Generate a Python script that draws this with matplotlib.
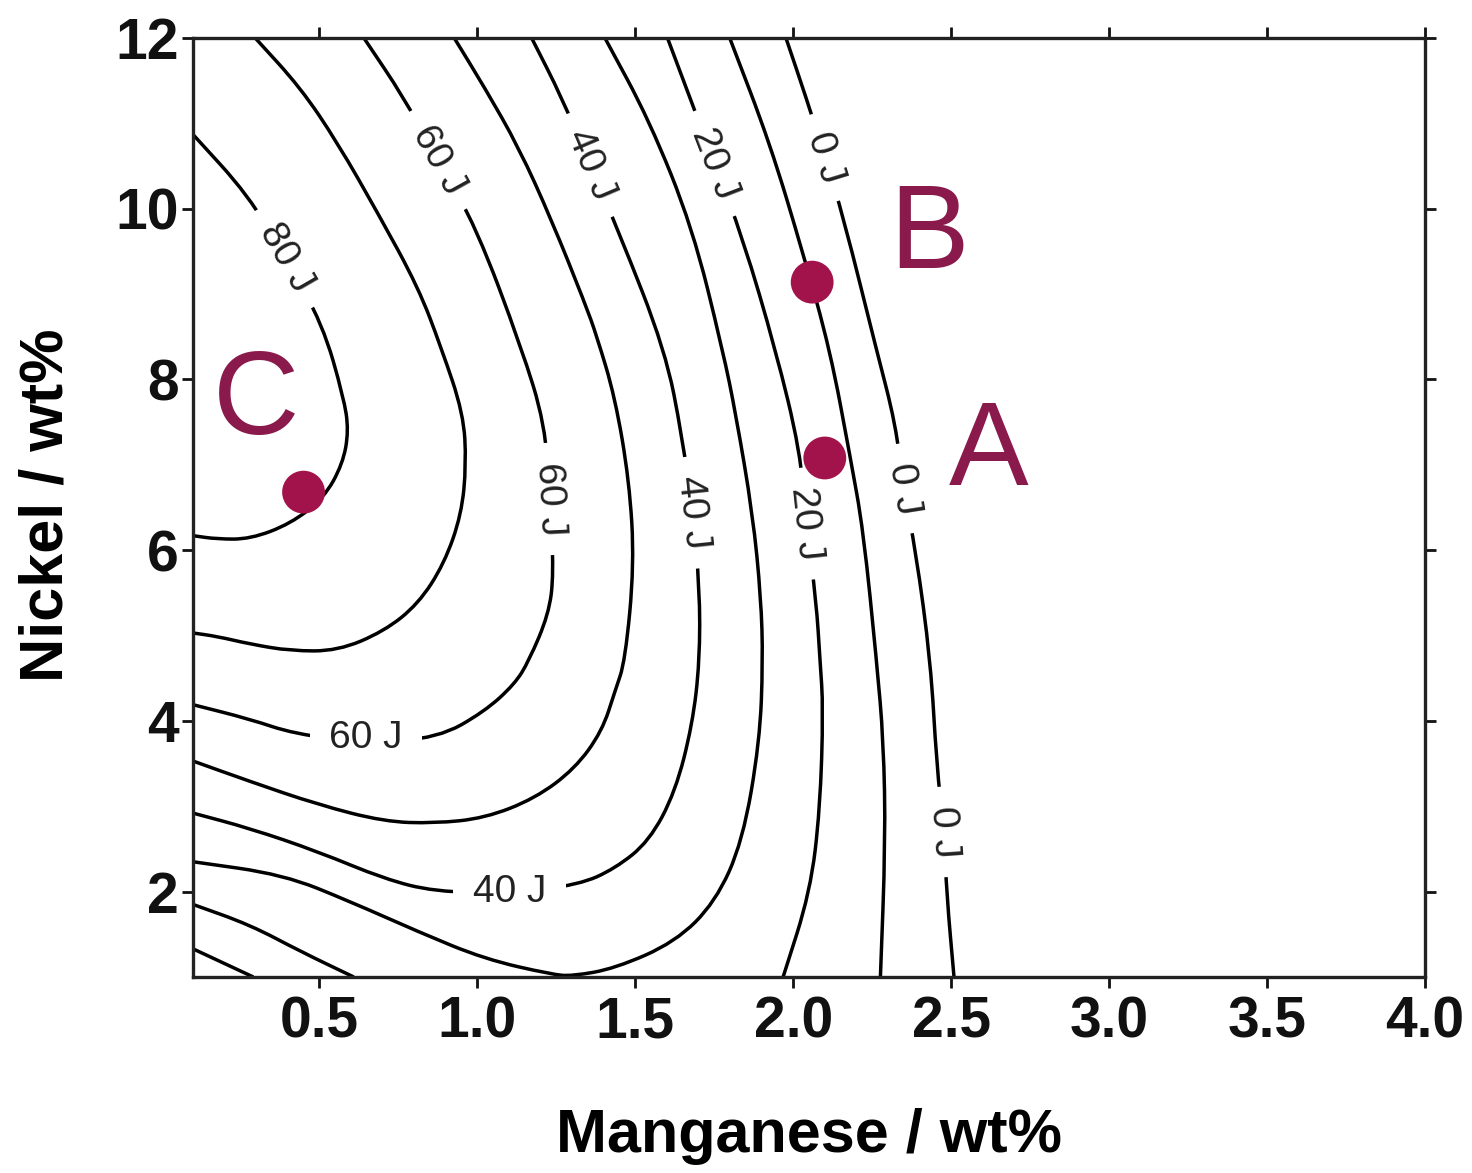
import matplotlib.pyplot as plt
from matplotlib.path import Path
from matplotlib.patches import PathPatch

plt.rcParams['font.family'] = ['Liberation Sans', 'DejaVu Sans']

# Impact energy contours: Manganese (x) and Nickel (y), wt%
c80_mn = [0.100, 0.275, 0.393, 0.510, 0.577, 0.593, 0.574, 0.514, 0.409, 0.281, 0.176, 0.100]
c80_ni = [10.87, 10.16, 9.42, 8.65, 7.79, 7.40, 7.01, 6.61, 6.31, 6.13, 6.13, 6.17]

c70_mn = [0.297, 0.440, 0.558, 0.685, 0.813, 0.886, 0.956, 0.965, 0.950, 0.895, 0.813, 0.705, 0.558, 0.409, 0.281, 0.176, 0.100]
c70_ni = [12.0, 11.42, 10.77, 9.95, 9.08, 8.37, 7.60, 7.01, 6.42, 5.84, 5.37, 5.05, 4.82, 4.82, 4.90, 4.99, 5.03]

c60_mn = [0.641, 0.768, 0.876, 0.997, 1.140, 1.214, 1.230, 1.242, 1.226, 1.163, 1.118, 1.023, 0.876, 0.647, 0.418, 0.281, 0.100]
c60_ni = [12.0, 11.30, 10.57, 9.78, 8.37, 7.48, 6.60, 5.72, 5.25, 4.70, 4.43, 4.11, 3.80, 3.74, 3.85, 4.02, 4.19]

c50_mn = [0.927, 1.023, 1.131, 1.236, 1.341, 1.378, 1.436, 1.481, 1.497, 1.468, 1.436, 1.395, 1.309, 1.182, 1.023, 0.864, 0.705, 0.495, 0.281, 0.100]
c50_ni = [12.0, 11.42, 10.72, 9.86, 8.89, 8.51, 7.79, 6.81, 5.84, 4.70, 4.35, 3.88, 3.44, 3.09, 2.86, 2.80, 2.82, 3.02, 3.29, 3.53]

c40_mn = [1.172, 1.268, 1.357, 1.449, 1.595, 1.649, 1.681, 1.704, 1.704, 1.681, 1.627, 1.544, 1.436, 1.322, 1.102, 0.864, 0.705, 0.495, 0.281, 0.100]
c40_ni = [12.0, 11.30, 10.51, 9.72, 8.34, 7.32, 6.44, 5.56, 4.70, 3.96, 3.17, 2.59, 2.27, 2.08, 1.98, 2.00, 2.15, 2.47, 2.74, 2.92]

c30_mn = [1.404, 1.544, 1.681, 1.777, 1.818, 1.872, 1.898, 1.904, 1.894, 1.840, 1.754, 1.627, 1.436, 1.300, 1.236, 1.023, 0.813, 0.600, 0.386, 0.100]
c30_ni = [12.0, 11.04, 9.78, 8.34, 7.60, 6.42, 5.44, 4.70, 3.76, 2.59, 1.88, 1.41, 1.10, 1.01, 1.03, 1.21, 1.53, 1.88, 2.20, 2.35]

c20_mn = [1.602, 1.672, 1.751, 1.840, 1.945, 2.022, 2.041, 2.073, 2.085, 2.095, 2.085, 2.054, 1.968]
c20_ni = [12.0, 11.31, 10.53, 9.66, 8.34, 7.16, 6.31, 5.40, 4.70, 4.15, 2.97, 2.00, 1.0]
c20b_mn = [0.100, 0.281, 0.440, 0.609]
c20b_ni = [1.85, 1.61, 1.30, 1.0]

c10_mn = [1.799, 1.926, 2.031, 2.117, 2.181, 2.222, 2.264, 2.286, 2.292, 2.276]
c10_ni = [12.0, 10.77, 9.48, 8.34, 7.08, 6.23, 4.70, 3.76, 2.59, 1.0]
c10b_mn = [0.100, 0.291]
c10b_ni = [1.33, 1.0]

c0_mn = [1.977, 2.041, 2.101, 2.159, 2.264, 2.324, 2.349, 2.388, 2.435, 2.454, 2.477, 2.486, 2.509]
c0_ni = [12.0, 11.30, 10.60, 9.90, 8.34, 7.48, 6.72, 5.99, 4.70, 3.49, 2.70, 1.96, 1.0]

# Contour labels
label_text = ['80 J', '60 J', '40 J', '20 J', '0 J', '60 J', '40 J', '20 J', '0 J', '0 J', '60 J', '40 J']
label_mn = [0.393, 0.876, 1.357, 1.751, 2.101, 1.230, 1.681, 2.041, 2.349, 2.477, 0.647, 1.102]
label_ni = [9.42, 10.57, 10.51, 10.53, 10.60, 6.60, 6.44, 6.31, 6.72, 2.70, 3.80, 2.00]
label_rot = [-60, -61, -67, -69, -73, -87, -84, -84, -81, -86, 0, 0]

# Marked alloys
point_names = ['A', 'B', 'C']
point_mn = [2.10, 2.06, 0.45]
point_ni = [7.08, 9.14, 6.68]
name_mn = [2.62, 2.43, 0.30]
name_ni = [7.12, 9.66, 7.72]

x_ticks = [0.5, 1.0, 1.5, 2.0, 2.5, 3.0, 3.5, 4.0]
y_ticks = [2, 4, 6, 8, 10, 12]


def smooth_path(xs, ys):
    # quadratic curve through midpoints, read points act as control points
    pts = list(zip(xs, ys))
    if len(pts) < 3:
        return Path(pts, [Path.MOVETO] + [Path.LINETO] * (len(pts) - 1))
    verts = [pts[0]]
    codes = [Path.MOVETO]
    mid = ((pts[0][0] + pts[1][0]) / 2, (pts[0][1] + pts[1][1]) / 2)
    verts.append(mid)
    codes.append(Path.LINETO)
    for i in range(1, len(pts) - 1):
        nxt = ((pts[i][0] + pts[i + 1][0]) / 2, (pts[i][1] + pts[i + 1][1]) / 2)
        verts += [pts[i], nxt]
        codes += [Path.CURVE3, Path.CURVE3]
    verts.append(pts[-1])
    codes.append(Path.LINETO)
    return Path(verts, codes)


fig = plt.figure(figsize=(14.72, 11.73), dpi=100)
ax = fig.add_axes([0.1311, 0.1671, 0.8370, 0.8005])

lines = [(c80_mn, c80_ni), (c70_mn, c70_ni), (c60_mn, c60_ni), (c50_mn, c50_ni),
         (c40_mn, c40_ni), (c30_mn, c30_ni), (c20_mn, c20_ni), (c20b_mn, c20b_ni),
         (c10_mn, c10_ni), (c10b_mn, c10b_ni), (c0_mn, c0_ni)]
for mn, ni in lines:
    ax.add_patch(PathPatch(smooth_path(mn, ni), fill=False, edgecolor='black',
                           lw=2.5, capstyle='butt', joinstyle='round'))

for t, x, y, r in zip(label_text, label_mn, label_ni, label_rot):
    ax.text(x, y, t, fontsize=28, rotation=r, rotation_mode='anchor',
            ha='center', va='center', color='#222222', zorder=3,
            bbox=dict(boxstyle='square,pad=0.5', fc='white', ec='none'))

ax.scatter(point_mn, point_ni, s=950, color='#a3134b', edgecolors='none', zorder=5)
for t, x, y in zip(point_names, name_mn, name_ni):
    ax.text(x, y, t, fontsize=86, color='#8a1a4c', ha='center', va='center', zorder=6)

ax.set_xlim(0.1, 4.0)
ax.set_ylim(1, 12)
ax.set_xticks(x_ticks)
ax.set_xticklabels([f'{v:.1f}' for v in x_ticks], fontweight='bold')
ax.set_yticks(y_ticks)
ax.set_yticklabels([str(v) for v in y_ticks], fontweight='bold')
ax.tick_params(direction='out', length=8, width=2, top=True, right=True,
               labelsize=41, colors='#111111')
ax.tick_params(axis='y', pad=2)
ax.tick_params(axis='x', pad=5)
for s in ax.spines.values():
    s.set_linewidth(2.4)
    s.set_color('#222222')

fig.text(0.5496, 0.0179, 'Manganese / wt%', ha='center', va='baseline',
         fontsize=44, fontweight='bold')
fig.text(0.0316, 0.5695, 'Nickel / wt%', ha='center', va='center', rotation=90,
         fontsize=44, fontweight='bold')

fig.savefig('out.png', dpi=100)
